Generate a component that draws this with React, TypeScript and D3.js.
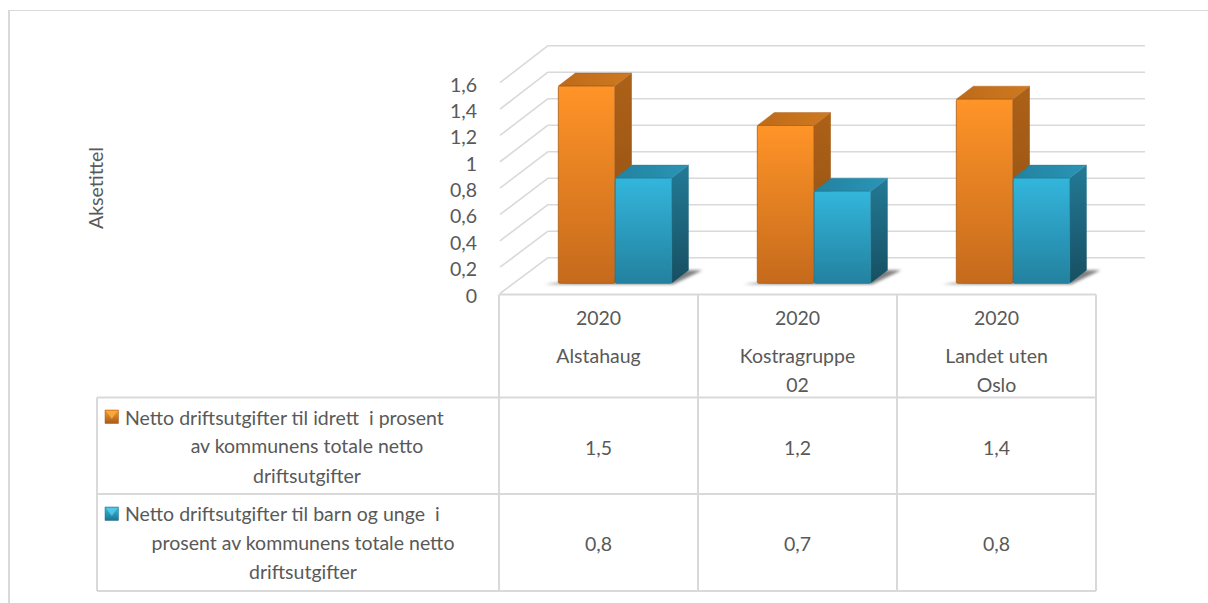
import React from "react";
import * as d3 from "d3";

const categories = ["Alstahaug", "Kostragruppe 02", "Landet uten Oslo"];
const years = ["2020", "2020", "2020"];
const categoryLines = [["Alstahaug"], ["Kostragruppe", "02"], ["Landet uten", "Oslo"]];
const sportValues = [1.5, 1.2, 1.4];
const youthValues = [0.8, 0.7, 0.8];
const yTicks = [0, 0.2, 0.4, 0.6, 0.8, 1, 1.2, 1.4, 1.6];
const sportLegend = ["Netto driftsutgifter til idrett  i prosent", "av kommunens totale netto", "driftsutgifter"];
const youthLegend = ["Netto driftsutgifter til barn og unge  i", "prosent av kommunens totale netto", "driftsutgifter"];
const axisTitle = "Aksetittel";

const fmt = (v: number) => String(v).replace(".", ",");
const FONT = "Lato, Carlito, sans-serif";
const TXT = "#595959";
const GRID = "#d9d9d9";

export default function App() {
  // wall scales
  const yFront = d3.scaleLinear().domain([0, 1.6]).range([293.5, 82.7]);
  const yBack = d3.scaleLinear().domain([0, 1.6]).range([257.7, 45.7]);
  const yBar = d3.scaleLinear().domain([0, 1.6]).range([283.3, 72.9]);
  const colEdges = [499, 698, 897, 1096];
  const xGroup = d3.scaleBand<string>().domain(categories).range([499, 1096]);
  const barW = 56.5;
  const depthX = 17;
  const depthY = 13;

  const series = [
    { id: "o", values: sportValues, offset: 0, front: "url(#of)", top: "url(#ot)", side: "url(#os)", edge: "#a85c14" },
    { id: "b", values: youthValues, offset: barW + 0.4, front: "url(#bf)", top: "url(#bt)", side: "url(#bs)", edge: "#1f7f9c" },
  ];

  return (
    <svg width={1208} height={603} style={{ position: "absolute", left: 0, top: 0, display: "block", background: "#fff" }} fontFamily={FONT}>
      <defs>
        <linearGradient id="of" x1="0" y1="0" x2="0" y2="1">
          <stop offset="0" stopColor="#ff9428" />
          <stop offset="1" stopColor="#c56a1c" />
        </linearGradient>
        <linearGradient id="ot" x1="0" y1="0" x2="1" y2="0">
          <stop offset="0" stopColor="#bd6a1a" />
          <stop offset="1" stopColor="#cf7a20" />
        </linearGradient>
        <linearGradient id="os" x1="0" y1="0" x2="0" y2="1">
          <stop offset="0" stopColor="#ad6118" />
          <stop offset="1" stopColor="#8f4f12" />
        </linearGradient>
        <linearGradient id="bf" x1="0" y1="0" x2="0" y2="1">
          <stop offset="0" stopColor="#33b6dc" />
          <stop offset="1" stopColor="#23819f" />
        </linearGradient>
        <linearGradient id="bt" x1="0" y1="0" x2="1" y2="0">
          <stop offset="0" stopColor="#23829f" />
          <stop offset="1" stopColor="#2a95b7" />
        </linearGradient>
        <linearGradient id="bs" x1="0" y1="0" x2="0" y2="1">
          <stop offset="0" stopColor="#237a96" />
          <stop offset="1" stopColor="#174f62" />
        </linearGradient>
        <linearGradient id="lo" x1="0" y1="0" x2="0" y2="1">
          <stop offset="0" stopColor="#f59a30" />
          <stop offset="1" stopColor="#a85c18" />
        </linearGradient>
        <linearGradient id="lb" x1="0" y1="0" x2="0" y2="1">
          <stop offset="0" stopColor="#38bde0" />
          <stop offset="1" stopColor="#1f7290" />
        </linearGradient>
        <filter id="soft" x="-20%" y="-50%" width="140%" height="200%">
          <feGaussianBlur stdDeviation="1.6" />
        </filter>
      </defs>

      {/* outer chart frame */}
      <line x1={9} y1={10.5} x2={1208} y2={10.5} stroke={GRID} strokeWidth={1.2} />
      <line x1={9} y1={10} x2={9} y2={603} stroke={GRID} strokeWidth={2} />

      {/* walls */}
      {yTicks.map((t) => (
        <g key={t} stroke={GRID} strokeWidth={1.6} fill="none">
          <line x1={500} y1={yFront(t)} x2={548} y2={yBack(t)} />
          <line x1={548} y1={yBack(t)} x2={1145} y2={yBack(t)} />
        </g>
      ))}

      {/* bars */}
      {categories.map((c, i) => {
        const x0 = (xGroup(c) as number) + 59.3;
        return (
          <g key={c}>
            <path
              d={`M${x0 - 14},${yBar(0) + 1} L${x0 + 2 * barW + 2},${yBar(0) + 1} L${x0 + 2 * barW + depthX + 14},${yBar(0) - depthY} L${x0 + 2 * barW},${yBar(0) - depthY} Z`}
              fill="#555"
              opacity={0.75}
              filter="url(#soft)"
            />
            {series.map((s) => {
              const x = x0 + s.offset;
              const top = yBar(s.values[i]);
              const base = yBar(0);
              return (
                <g key={s.id}>
                  <path d={`M${x},${top} L${x + depthX},${top - depthY} H${x + barW + depthX} L${x + barW},${top} Z`} fill={s.top} stroke={s.edge} strokeWidth={0.4} strokeLinejoin="round" />
                  <path d={`M${x + barW},${top} L${x + barW + depthX},${top - depthY} V${base - depthY} L${x + barW},${base} Z`} fill={s.side} strokeLinejoin="round" />
                  <rect x={x} y={top} width={barW} height={base - top} rx={1.5} fill={s.front} stroke={s.edge} strokeWidth={0.8} />
                </g>
              );
            })}
          </g>
        );
      })}

      {/* y ticks */}
      {yTicks.map((t) => (
        <text key={t} x={477} y={yFront(t) + 1.5} textAnchor="end" dominantBaseline="central" fontSize={19.5} fill={TXT}>
          {fmt(t)}
        </text>
      ))}
      <text transform="translate(95,188) rotate(-90)" textAnchor="middle" dominantBaseline="central" fontSize={19.5} fill={TXT}>
        {axisTitle}
      </text>

      {/* data table grid */}
      <g stroke={GRID} strokeWidth={2} fill="none">
        <line x1={499} y1={294.5} x2={1096} y2={294.5} />
        <line x1={97} y1={397.5} x2={1096} y2={397.5} />
        <line x1={97} y1={494} x2={1096} y2={494} />
        <line x1={97} y1={591} x2={1096} y2={591} />
        <line x1={97} y1={397.5} x2={97} y2={591} />
        {colEdges.map((x) => (
          <line key={x} x1={x} y1={294.5} x2={x} y2={591} />
        ))}
      </g>

      {/* category header & values */}
      {categories.map((c, i) => {
        const cx = (xGroup(c) as number) + xGroup.bandwidth() / 2;
        return (
          <g key={c} textAnchor="middle" fontSize={19.5} fill={TXT} dominantBaseline="central">
            <text x={cx} y={317.5}>{years[i]}</text>
            {categoryLines[i].map((l, j) => (
              <text key={l} x={cx} y={355.5 + j * 28.5}>{l}</text>
            ))}
            <text x={cx} y={447}>{fmt(sportValues[i])}</text>
            <text x={cx} y={543}>{fmt(youthValues[i])}</text>
          </g>
        );
      })}

      {/* legend keys */}
      <rect x={105} y={410} width={13.5} height={13.5} fill="url(#lo)" stroke="#a85c18" strokeWidth={0.5} />
      <path d="M106,411 H117.5 L111.75,419 Z" fill="#ffb040" opacity={0.75} />
      <rect x={105} y={507} width={13.5} height={13.5} fill="url(#lb)" stroke="#1f7290" strokeWidth={0.5} />
      <path d="M106,508 H117.5 L111.75,516 Z" fill="#55d0f0" opacity={0.75} />

      {/* legend text */}
      <g fontSize={19.5} fill={TXT} dominantBaseline="central" style={{ whiteSpace: "pre" }}>
        <text x={125} y={417} xmlSpace="preserve">{sportLegend[0]}</text>
        <text x={307} y={445.5} textAnchor="middle">{sportLegend[1]}</text>
        <text x={307} y={475} textAnchor="middle">{sportLegend[2]}</text>
        <text x={125} y={513} xmlSpace="preserve">{youthLegend[0]}</text>
        <text x={303} y={542} textAnchor="middle">{youthLegend[1]}</text>
        <text x={303} y={571} textAnchor="middle">{youthLegend[2]}</text>
      </g>
    </svg>
  );
}
